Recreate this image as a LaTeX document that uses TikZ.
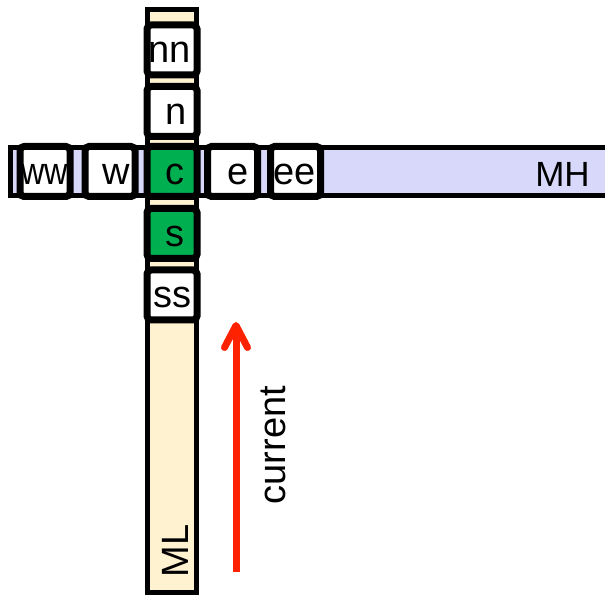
\documentclass[tikz,border=0pt]{standalone}
\usepackage{fontspec}
\setmainfont{Liberation Sans}
\usetikzlibrary{arrows.meta}

\definecolor{mlcream}{RGB}{255,242,208}
\definecolor{mhlilac}{RGB}{216,216,250}
\definecolor{cellgreen}{RGB}{0,176,80}
\definecolor{currentred}{RGB}{255,34,0}

\begin{document}
\begin{tikzpicture}[x=1pt, y=1pt,
  cell/.style={draw, line width=7pt, rounded corners=4pt, fill=white,
    minimum size=50pt, inner sep=0pt},
  active/.style={cell, fill=cellgreen},
  lbl/.style={font=\fontsize{38}{38}\selectfont, anchor=base, inner sep=0pt},
  strip/.style={draw, line width=5pt}]

\useasboundingbox (0,0) rectangle (605,595);
\clip (0,0) rectangle (605,595);

% Metal strips
\draw[strip, fill=mhlilac] (10.5,399.5) rectangle (625,447.5);
\draw[strip, fill=mlcream] (147.5,3) rectangle (196.5,585.5);

\node[lbl, font=\fontsize{35}{35}\selectfont] (mh) at (562.5,408) {MH};
\node[lbl, rotate=90] (ml) at (188,44) {ML};

% Row of cells along MH
\node[cell] (ww) at (45,423.5) {};
\node[cell] (w) at (110,423.5) {};
\node[active] (c) at (172,423.5) {};
\node[cell] (e) at (232.5,423.5) {};
\node[cell] (ee) at (295.5,423.5) {};

% Column of cells along ML
\node[cell] (nn) at (172,545) {};
\node[cell] (n) at (172,483.5) {};
\node[active] (s) at (172,361.5) {};
\node[cell] (ss) at (172,300) {};

% Cell labels
\node[lbl, xscale=0.85] (ww-t) at ([yshift=-13pt]ww.center) {ww};
\node[lbl] (w-t) at ([xshift=6pt, yshift=-13pt]w.center) {w};
\node[lbl] (c-t) at ([xshift=3pt, yshift=-13pt]c.center) {c};
\node[lbl] (e-t) at ([xshift=6pt, yshift=-13pt]e.center) {e};
\node[lbl] (ee-t) at ([xshift=-1pt, yshift=-13pt]ee.center) {ee};
\node[lbl] (nn-t) at ([xshift=-2pt, yshift=-13pt]nn.center) {nn};
\node[lbl] (n-t) at ([xshift=4pt, yshift=-13pt]n.center) {n};
\node[lbl] (s-t) at ([xshift=3pt, yshift=-13pt]s.center) {s};
\node[lbl] (ss-t) at ([yshift=-13pt]ss.center) {ss};

% Current direction
\coordinate (cur-tail) at (236,23);
\coordinate (cur-head) at (236,273);
\draw[currentred, line width=7pt, -{Straight Barb[length=22pt, width=23pt, round]}]
  (cur-tail) -- (cur-head);
\node[lbl, rotate=90] (cur) at (285,150) {current};

\end{tikzpicture}
\end{document}
